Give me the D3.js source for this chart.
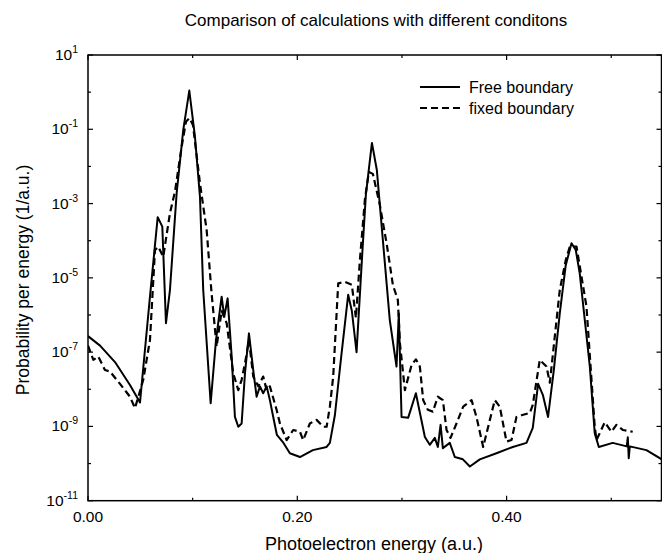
<!DOCTYPE html>
<html>
<head>
<meta charset="utf-8">
<script src="https://cdn.jsdelivr.net/npm/d3@7"></script>
<style>
  body { margin: 0; background: #fff; }
  text { font-family: "Liberation Sans", Arial, sans-serif; fill: #000; }
</style>
</head>
<body>
<svg class="chart" width="662" height="553"></svg>
<script>
// Free boundary (solid)
var energySolid = [0, 0.0115, 0.0258, 0.0401, 0.0497, 0.0592, 0.0666, 0.071, 0.0745, 0.0783,
  0.0847, 0.091, 0.0968, 0.1022, 0.107, 0.1101, 0.1172, 0.1223, 0.1277, 0.1302,
  0.1334, 0.1373, 0.1404, 0.1436, 0.1468, 0.15, 0.1538, 0.1579, 0.1611, 0.1643,
  0.1674, 0.1707, 0.1738, 0.177, 0.1805, 0.1862, 0.1929, 0.2025, 0.2149, 0.228,
  0.2311, 0.2359, 0.2416, 0.2486, 0.2521, 0.2566, 0.2617, 0.2655, 0.2713, 0.276,
  0.2818, 0.2884, 0.2948, 0.297, 0.2996, 0.3059, 0.3133, 0.3219, 0.3266, 0.3314,
  0.3343, 0.3369, 0.3391, 0.3457, 0.3505, 0.3582, 0.3649, 0.3744, 0.3903, 0.4059,
  0.419, 0.425, 0.4301, 0.4346, 0.4396, 0.4451, 0.4508, 0.4565, 0.462, 0.4661,
  0.4699, 0.4795, 0.4842, 0.4881, 0.5014, 0.5148, 0.5158, 0.5167, 0.5177, 0.5336, 0.5482];
var probSolid = [2.7e-7, 1.5e-7, 5.4e-8, 1.3e-8, 4.4e-9, 3.1e-6, 4.3e-4, 2.4e-4, 6.0e-7, 4.7e-6,
  1.9e-3, 0.095, 1.1, 0.063, 1.5e-3, 4.7e-6, 4.2e-9, 2.1e-7, 3.1e-6, 8.9e-7,
  2.8e-6, 7.6e-8, 1.8e-9, 9.8e-10, 1.2e-9, 2.7e-8, 3.2e-7, 3.3e-8, 6.3e-9, 1.2e-8,
  7.8e-9, 1.2e-8, 5.1e-9, 1.8e-9, 5.9e-10, 3.8e-10, 1.9e-10, 1.5e-10, 2.3e-10, 2.8e-10,
  3.6e-10, 2.0e-9, 6.2e-8, 3.5e-6, 1.3e-6, 1.0e-7, 3.0e-5, 1.7e-3, 0.043, 8e-3,
  1.0e-4, 7.2e-7, 4.1e-8, 1.1e-6, 1.8e-9, 1.7e-9, 7.8e-9, 5.2e-10, 3.2e-10, 4.9e-10,
  2.8e-10, 1.1e-9, 2.6e-10, 3.6e-10, 1.5e-10, 1.3e-10, 8.3e-11, 1.3e-10, 1.9e-10, 2.8e-10,
  3.6e-10, 9.1e-10, 1.4e-8, 7.1e-9, 1.8e-9, 3.3e-8, 1.1e-6, 2.2e-5, 8.5e-5, 5.6e-5,
  1.3e-5, 4.1e-8, 6.6e-10, 2.8e-10, 3.6e-10, 2.9e-10, 5.1e-10, 1.4e-10, 2.9e-10, 2.3e-10, 1.3e-10];

// fixed boundary (dashed)
var energyDashed = [0, 0.0051, 0.0098, 0.0162, 0.021, 0.0306, 0.0401, 0.0449, 0.0528, 0.0592,
  0.064, 0.0671, 0.0719, 0.0783, 0.0831, 0.0895, 0.0936, 0.0969, 0.1003, 0.107,
  0.1134, 0.1181, 0.1229, 0.1277, 0.1325, 0.1388, 0.1436, 0.1468, 0.15, 0.1538,
  0.1579, 0.1627, 0.1674, 0.1707, 0.1738, 0.1802, 0.1834, 0.1898, 0.1961, 0.2025,
  0.2056, 0.212, 0.2184, 0.2247, 0.228, 0.2311, 0.2343, 0.2391, 0.2455, 0.2521,
  0.256, 0.2598, 0.2646, 0.2684, 0.2722, 0.2789, 0.2856, 0.2913, 0.2961, 0.298,
  0.3028, 0.3092, 0.3133, 0.3171, 0.3203, 0.3247, 0.3295, 0.3343, 0.3391, 0.3426,
  0.3464, 0.3521, 0.3585, 0.3665, 0.3712, 0.3776, 0.384, 0.3887, 0.3935, 0.3999,
  0.4047, 0.4094, 0.4142, 0.4222, 0.425, 0.4317, 0.4381, 0.4413, 0.4508, 0.4565,
  0.4604, 0.4668, 0.4763, 0.4842, 0.4859, 0.4938, 0.5002, 0.5049, 0.5113, 0.5205];
var probDashed = [1.5e-7, 6.2e-8, 7.6e-8, 3.3e-8, 3.0e-8, 1.4e-8, 6.3e-9, 3.1e-9, 1.8e-8, 2.1e-7,
  5.6e-5, 6.9e-5, 3.7e-5, 5.5e-4, 2.1e-3, 0.034, 0.16, 0.2, 0.13, 3.5e-3,
  1.9e-4, 3.8e-6, 1.4e-7, 1.3e-6, 6.0e-7, 2.7e-8, 9.5e-9, 1.8e-8, 5e-8, 2.1e-7,
  2.2e-8, 1.2e-8, 2.2e-8, 9.5e-9, 1.2e-8, 2.8e-9, 1.2e-9, 4.3e-10, 8e-10, 7.2e-10,
  4.3e-10, 1.2e-9, 1.5e-9, 9.8e-10, 9.8e-10, 3.4e-9, 2.2e-8, 7.1e-6, 7.8e-6, 6.5e-6,
  8.3e-7, 3e-5, 1.3e-3, 7.1e-3, 6.3e-3, 9.1e-4, 7.6e-5, 6.5e-6, 2.5e-6, 1.8e-7,
  9.5e-9, 4.5e-8, 6.4e-8, 4.1e-8, 5.1e-9, 2.8e-9, 2.5e-9, 6.3e-9, 5.1e-9, 8e-10,
  4.9e-10, 1.2e-9, 3.4e-9, 5.1e-9, 1.8e-9, 2.8e-10, 1.5e-9, 5.1e-9, 3.4e-9, 3.9e-10,
  4.3e-10, 1.8e-9, 2.0e-9, 2.3e-9, 3.8e-9, 6.2e-8, 4.1e-8, 1.5e-8, 4.7e-6, 3e-5,
  6.9e-5, 6.9e-5, 1.7e-6, 9.8e-10, 4.3e-10, 1.3e-9, 7.2e-10, 1.1e-9, 8e-10, 7.2e-10];

var xMajor = [0, 0.2, 0.4];
var xMinor = [0.1, 0.3, 0.5];
var xLabels = ["0.00", "0.20", "0.40"];
var yMajorExp = [1, -1, -3, -5, -7, -9, -11];
var yMinorExp = [0, -2, -4, -6, -8, -10];
var seriesNames = ["Free boundary", "fixed boundary"];

var svg = d3.select(".chart"),
    plotL = 88, plotR = 661.5, plotT = 55, plotB = 500.7;

var x = d3.scaleLinear()
    .domain([0, 0.548])
    .range([plotL, plotR]);

var y = d3.scaleLog()
    .domain([1e-11, 10])
    .range([plotB, plotT]);

svg.append("clipPath")
    .attr("id", "clip")
  .append("rect")
    .attr("x", plotL)
    .attr("y", plotT)
    .attr("width", plotR - plotL)
    .attr("height", plotB - plotT);

var line = d3.line()
    .x(function(d) { return x(d[0]); })
    .y(function(d) { return y(d[1]); });

var solid = d3.zip(energySolid, probSolid),
    dashed = d3.zip(energyDashed, probDashed);

var plot = svg.append("g").attr("clip-path", "url(#clip)");

plot.append("path")
    .datum(dashed)
    .attr("d", line)
    .attr("fill", "none")
    .attr("stroke", "#000")
    .attr("stroke-width", 2.2)
    .attr("stroke-dasharray", "7,4")
    .attr("stroke-linejoin", "round");

plot.append("path")
    .datum(solid)
    .attr("d", line)
    .attr("fill", "none")
    .attr("stroke", "#000")
    .attr("stroke-width", 2)
    .attr("stroke-linejoin", "round");

// frame
svg.append("rect")
    .attr("x", plotL)
    .attr("y", plotT)
    .attr("width", plotR - plotL)
    .attr("height", plotB - plotT)
    .attr("fill", "none")
    .attr("stroke", "#000")
    .attr("stroke-width", 1.5);

// ticks, all pointing inward
function xTicks(vals, len) {
  vals.forEach(function(v) {
    svg.append("line").attr("x1", x(v)).attr("x2", x(v))
        .attr("y1", plotB).attr("y2", plotB - len)
        .attr("stroke", "#000").attr("stroke-width", 1.2);
    svg.append("line").attr("x1", x(v)).attr("x2", x(v))
        .attr("y1", plotT).attr("y2", plotT + len)
        .attr("stroke", "#000").attr("stroke-width", 1.2);
  });
}
xTicks(xMajor, 5);
xTicks(xMinor, 3);

function yTicks(exps, len) {
  exps.forEach(function(e) {
    var yy = y(Math.pow(10, e));
    svg.append("line").attr("x1", plotL).attr("x2", plotL + len)
        .attr("y1", yy).attr("y2", yy)
        .attr("stroke", "#000").attr("stroke-width", 1.2);
    svg.append("line").attr("x1", plotR).attr("x2", plotR - len)
        .attr("y1", yy).attr("y2", yy)
        .attr("stroke", "#000").attr("stroke-width", 1.2);
  });
}
yTicks(yMajorExp, 5);
yTicks(yMinorExp, 3);

svg.selectAll(".xlab")
  .data(xMajor)
  .enter().append("text")
    .attr("class", "xlab")
    .attr("x", function(d) { return x(d); })
    .attr("y", 522)
    .attr("text-anchor", "middle")
    .attr("font-size", 15.5)
    .text(function(d, i) { return xLabels[i]; });

var ylab = svg.selectAll(".ylab")
  .data(yMajorExp)
  .enter().append("text")
    .attr("class", "ylab")
    .attr("x", 78)
    .attr("y", function(d) { return y(Math.pow(10, d)) + 5; })
    .attr("text-anchor", "end")
    .attr("font-size", 15.5);
ylab.append("tspan").text("10");
ylab.append("tspan")
    .attr("dy", -7)
    .attr("font-size", 10.5)
    .text(function(d) { return d; });

svg.append("text")
    .attr("x", 376)
    .attr("y", 26)
    .attr("text-anchor", "middle")
    .attr("font-size", 17)
    .text("Comparison of calculations with different conditons");

svg.append("text")
    .attr("x", 374)
    .attr("y", 550)
    .attr("text-anchor", "middle")
    .attr("font-size", 18)
    .text("Photoelectron energy (a.u.)");

svg.append("text")
    .attr("transform", "translate(29,280) rotate(-90)")
    .attr("text-anchor", "middle")
    .attr("font-size", 17.5)
    .text("Probability per energy (1/a.u.)");

// legend
var legend = svg.append("g").attr("transform", "translate(420,87)");
seriesNames.forEach(function(name, i) {
  legend.append("line")
      .attr("x1", 0).attr("x2", 40)
      .attr("y1", i * 21).attr("y2", i * 21)
      .attr("stroke", "#000")
      .attr("stroke-width", 2)
      .attr("stroke-dasharray", i ? "7,4" : null);
  legend.append("text")
      .attr("x", 49)
      .attr("y", i * 21 + 6)
      .attr("font-size", 16)
      .text(name);
});
</script>
</body>
</html>
